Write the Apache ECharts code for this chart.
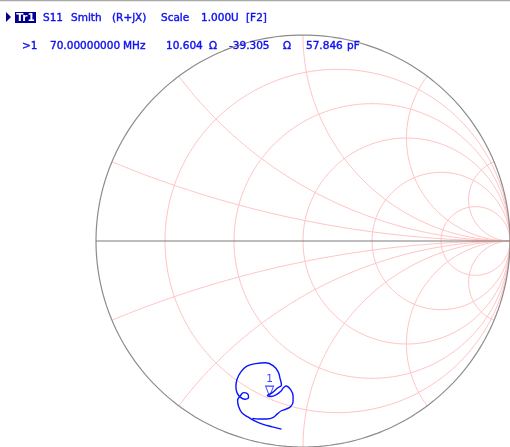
<!DOCTYPE html>
<html>
<head>
<meta charset="utf-8">
<title>S11 Smith (R+jX)</title>
<script src="https://cdn.jsdelivr.net/npm/echarts@6/dist/echarts.min.js"></script>
<style>
    html, body { margin: 0; padding: 0; background: #fff; }
    #smith-chart { width: 510px; height: 447px; }
</style>
</head>
<body>
<div id="smith-chart"></div>
<script>
    // grid of the smith chart, normalised to Z0
    var resistances = [0.2, 0.5, 1, 2, 5];
    var reactances = [0.2, 0.5, 1, 2, 5, -0.2, -0.5, -1, -2, -5];

    // S11 trace (reflection coefficient, re / im)
    var traceRe = [-0.104, -0.148, -0.196, -0.236, -0.268, -0.297, -0.311, -0.316,
        -0.303, -0.287, -0.268, -0.263, -0.280, -0.303, -0.319,
        -0.324, -0.319, -0.300, -0.271, -0.228, -0.180, -0.143, -0.120, -0.111, -0.104,
        -0.123, -0.148, -0.172, -0.155, -0.127, -0.107, -0.095,
        -0.082, -0.059, -0.048, -0.048, -0.059, -0.082, -0.104, -0.123, -0.143, -0.175, -0.212, -0.244];
    var traceIm = [-0.913, -0.902, -0.889, -0.872, -0.853, -0.832, -0.803, -0.774,
        -0.752, -0.736, -0.742, -0.758, -0.768, -0.758, -0.736,
        -0.707, -0.672, -0.635, -0.607, -0.595, -0.591, -0.606, -0.635, -0.667, -0.699,
        -0.714, -0.736, -0.750, -0.755, -0.745, -0.729, -0.713,
        -0.704, -0.723, -0.752, -0.780, -0.803, -0.816, -0.824, -0.838, -0.856, -0.864, -0.864, -0.861];

    // marker 1 readout
    var z0 = 50;
    var markerR = 10.604;
    var markerX = -39.305;

    // header texts
    var titleTokens = ['S11', 'Smith', '(R+jX)', 'Scale', '1.000U', '[F2]'];
    var markerTokens = ['>1', '70.00000000', 'MHz', '10.604', 'Ω', '-39.305', 'Ω', '57.846', 'pF'];

    // layout of the header (pixels)
    var titleX = [43, 71, 112, 161, 201, 246];
    var markerTextX = [22, 50, 123, 166, 209, 229, 283, 306, 347];

    var gridColor = '#ffc4c4';
    var textColor = '#1010f0';
    var font = '10.5px "DejaVu Sans"';

    function resistanceCircle(r) {
        var cx = r / (1 + r), rad = 1 / (1 + r), pts = [];
        for (var i = 0; i <= 240; i++) {
            var a = i / 240 * Math.PI * 2;
            pts.push([cx + rad * Math.cos(a), rad * Math.sin(a)]);
        }
        return pts;
    }

    function reactanceArc(x) {
        var pts = [];
        for (var i = 0; i < 200; i++) {
            var r = Math.tan(i / 200 * Math.PI / 2);
            var d = (r + 1) * (r + 1) + x * x;
            pts.push([(r * r - 1 + x * x) / d, 2 * x / d]);
        }
        pts.push([1, 0]);
        return pts;
    }

    function gridSeries(data, color, width) {
        return {
            type: 'line', data: data, showSymbol: false, silent: true, clip: false,
            lineStyle: {color: color, width: width}, z: 0
        };
    }

    var series = [];
    resistances.forEach(function (r) {
        series.push(gridSeries(resistanceCircle(r), gridColor, 1));
    });
    reactances.forEach(function (x) {
        series.push(gridSeries(reactanceArc(x), gridColor, 1));
    });
    series.push(gridSeries(resistanceCircle(0), '#8c8c8c', 1.2));
    series.push(gridSeries([[-1, 0], [1, 0]], '#7c7c7c', 1.2));

    series.push({
        type: 'line',
        data: traceRe.map(function (v, i) { return [v, traceIm[i]]; }),
        showSymbol: false, smooth: 0.4, clip: false,
        lineStyle: {color: '#0a14ff', width: 1.4}, z: 3
    });

    // marker position from the readout: gamma = (z - 1) / (z + 1)
    var zr = markerR / z0, zx = markerX / z0;
    var den = (zr + 1) * (zr + 1) + zx * zx;
    var markerPoint = [(zr * zr - 1 + zx * zx) / den, 2 * zx / den];
    series.push({
        type: 'scatter', data: [markerPoint], z: 4, clip: false,
        symbol: 'path://M0,0 L10,0 L5,10 Z', symbolSize: [8, 10], symbolOffset: [0, -5],
        itemStyle: {color: 'transparent', borderColor: '#0a14ff', borderWidth: 1},
        label: {show: true, formatter: '1', position: 'top', distance: 1,
            color: '#0a14ff', fontSize: 10.5, fontFamily: 'DejaVu Sans'}
    });

    function headerText(t, x, y) {
        return {type: 'text', x: x, y: y, z: 100,
            style: {text: t, fill: textColor, font: font, stroke: textColor, lineWidth: 0.4,
                textVerticalAlign: 'middle'}};
    }

    var elements = [
        {type: 'line', shape: {x1: 0, y1: 0.5, x2: 510, y2: 0.5}, style: {stroke: '#a8a8a8', lineWidth: 1.5}},
        {type: 'polygon', shape: {points: [[6, 12], [11, 17], [6, 22]]}, style: {fill: '#00008c'}},
        {type: 'rect', shape: {x: 15, y: 12, width: 21, height: 11}, style: {fill: '#000090'}},
        {type: 'text', x: 25.5, y: 18, z: 100, style: {text: 'Tr1', fill: '#fff', font: 'bold ' + font,
            textAlign: 'center', textVerticalAlign: 'middle'}}
    ];
    titleTokens.forEach(function (t, i) {
        elements.push(headerText(t, titleX[i], 18));
    });
    markerTokens.forEach(function (t, i) {
        elements.push(headerText(t, markerTextX[i], 46));
    });

    var myChart = echarts.init(document.getElementById('smith-chart'));
    myChart.setOption({
        animation: false,
        backgroundColor: '#fff',
        grid: {left: 96, top: 35, width: 416, height: 416},
        xAxis: {type: 'value', min: -1, max: 1, show: false},
        yAxis: {type: 'value', min: -1, max: 1, show: false},
        graphic: {elements: elements},
        series: series
    });
</script>
</body>
</html>
